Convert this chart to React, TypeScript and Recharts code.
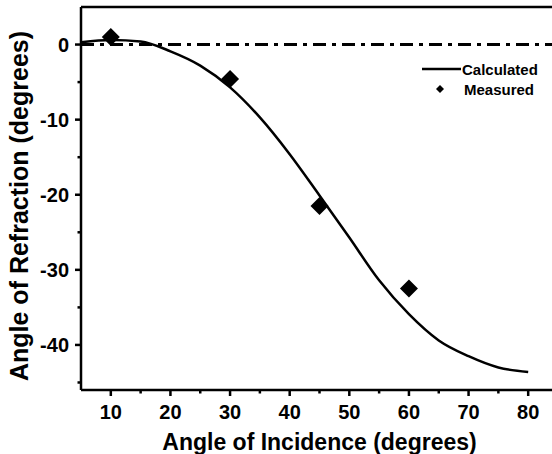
import React from 'react';
import { ComposedChart, Line, Scatter, XAxis, YAxis, ReferenceLine, Legend, Label } from 'recharts';

// calculated curve, sampled every 5 degrees
const incidence = [5, 10, 15, 20, 25, 30, 35, 40, 45, 50, 55, 60, 65, 70, 75, 80];
const calculated = [0.3, 0.6, 0.4, -0.9, -2.8, -5.7, -9.7, -14.6, -20.1, -25.7, -31.4, -35.9, -39.4, -41.5, -43.0, -43.6];

// measured points
const measuredIncidence = [10, 30, 45, 60];
const measured = [1.0, -4.6, -21.5, -32.5];

const xTicks = [10, 15, 20, 25, 30, 35, 40, 45, 50, 55, 60, 65, 70, 75, 80];
const yTicks = [-45, -40, -35, -30, -25, -20, -15, -10, -5, 0];

const calcData = incidence.map((x, i) => ({ x, calc: calculated[i] }));
const measData = measuredIncidence.map((x, i) => ({ x, meas: measured[i] }));

const FONT = '"Liberation Sans", Arial, sans-serif';
const INK = '#000';

const XTick = (props: any) => {
  const { x, y, payload } = props;
  const major = payload.value % 10 === 0;
  return (
    <g>
      <line x1={x} x2={x} y1={y} y2={y + (major ? 6 : 3.5)} stroke={INK} strokeWidth={2.5} />
      {major && (
        <text x={x} y={y + 22} textAnchor="middle" dominantBaseline="central" fontFamily={FONT} fontWeight="bold" fontSize={20} fill={INK}>
          {payload.value}
        </text>
      )}
    </g>
  );
};

const YTick = (props: any) => {
  const { x, y, payload } = props;
  const major = payload.value % 10 === 0;
  return (
    <g>
      <line x1={x} x2={x - (major ? 6 : 3.5)} y1={y} y2={y} stroke={INK} strokeWidth={2.5} />
      {major && (
        <text x={x - 12} y={y} textAnchor="end" dominantBaseline="central" fontFamily={FONT} fontWeight="bold" fontSize={20} fill={INK}>
          {payload.value}
        </text>
      )}
    </g>
  );
};

const Diamond = (props: any) => {
  const { cx, cy } = props;
  const r = 9;
  return <polygon points={`${cx},${cy - r} ${cx + r},${cy} ${cx},${cy + r} ${cx - r},${cy}`} fill={INK} />;
};

const YTitle = () => (
  <text transform="translate(19,206) rotate(-90)" textAnchor="middle" dominantBaseline="central" fontFamily={FONT} fontWeight="bold" fontSize={25} fill={INK}>
    Angle of Refraction (degrees)
  </text>
);

const LegendBox = (props: any) => {
  const items = props.payload || [];
  return (
    <svg width={140} height={42}>
      {items.map((entry: any, i: number) => {
        const cy = 11 + i * 20;
        return (
          <g key={entry.value}>
            {entry.type === 'line' ? (
              <line x1={2} x2={41} y1={cy} y2={cy} stroke={INK} strokeWidth={2.5} />
            ) : (
              <polygon points={`20,${cy - 4} 24,${cy} 20,${cy + 4} 16,${cy}`} fill={INK} />
            )}
            <text x={entry.type === 'line' ? 42 : 44} y={cy} dominantBaseline="central" fontFamily={FONT} fontWeight="bold" fontSize={15} fill={INK}>
              {entry.value}
            </text>
          </g>
        );
      })}
    </svg>
  );
};

export default function App() {
  return (
    <div style={{ position: 'absolute', left: 0, top: 0, width: 552, height: 454, overflow: 'hidden', background: '#fff' }}>
      <ComposedChart width={560} height={454} data={calcData} margin={{ top: 7, right: 2, bottom: 0, left: 0 }}>
        <XAxis
          dataKey="x"
          type="number"
          domain={[5, 85]}
          ticks={xTicks}
          interval={0}
          tickSize={0}
          tickMargin={0}
          tick={<XTick />}
          axisLine={{ stroke: INK, strokeWidth: 2.5 }}
          height={64}
          allowDataOverflow
        >
          <Label value="Angle of Incidence (degrees)" position="insideBottom" offset={4} fontFamily={FONT} fontWeight="bold" fontSize={23} fill={INK} />
        </XAxis>
        <YAxis
          type="number"
          domain={[-46, 5]}
          ticks={yTicks}
          interval={0}
          tickSize={0}
          tickMargin={0}
          tick={<YTick />}
          axisLine={{ stroke: INK, strokeWidth: 2.5 }}
          width={81}
          allowDataOverflow
        >
          <Label content={<YTitle />} />
        </YAxis>
        <ReferenceLine y={5} stroke={INK} strokeWidth={2.5} />
        <ReferenceLine x={85} stroke={INK} strokeWidth={2.5} />
        <ReferenceLine y={0} stroke={INK} strokeWidth={3} strokeDasharray="13 6 4 6" />
        <Line
          dataKey="calc"
          name="Calculated"
          type="monotone"
          stroke={INK}
          strokeWidth={2.5}
          dot={false}
          legendType="line"
          isAnimationActive={false}
        />
        <Scatter
          data={measData}
          dataKey="meas"
          name="Measured"
          shape={<Diamond />}
          fill={INK}
          legendType="diamond"
          isAnimationActive={false}
        />
        <Legend
          layout="horizontal"
          verticalAlign="middle"
          align="center"
          content={<LegendBox />}
          wrapperStyle={{ position: 'absolute', left: 420, top: 58, width: 140, height: 42 }}
        />
      </ComposedChart>
    </div>
  );
}
